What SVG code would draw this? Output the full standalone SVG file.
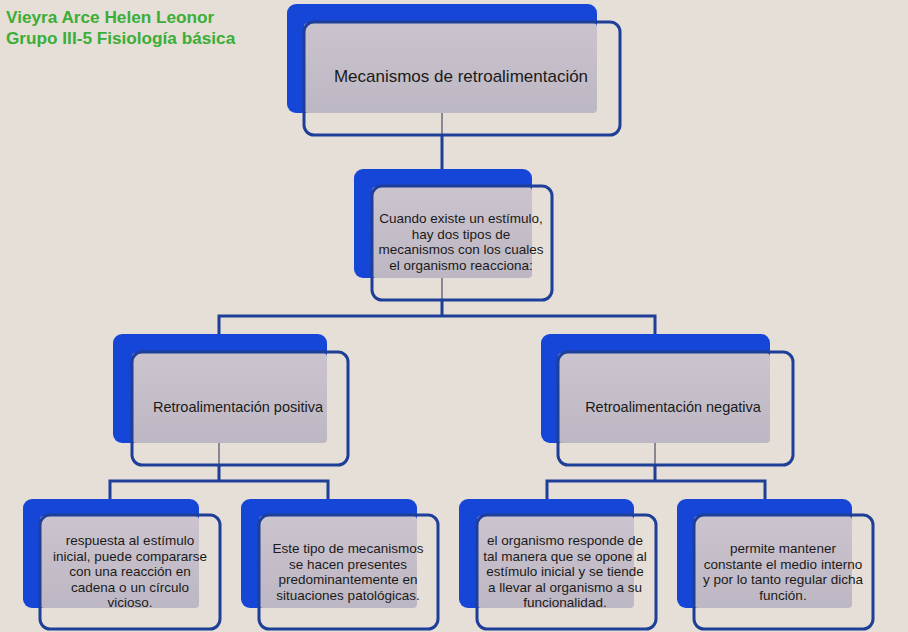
<svg xmlns="http://www.w3.org/2000/svg" width="908" height="632" viewBox="0 0 908 632">
<defs>
<linearGradient id="gr" x1="0" y1="0" x2="0" y2="1">
<stop offset="0" stop-color="#cbc4cf"/>
<stop offset="1" stop-color="#bdb7c3"/>
</linearGradient>
</defs>
<style>
.bg{fill:#e6dfd8}
.blue{fill:#1646d8}
.gray{fill:url(#gr)}
.out{fill:none;stroke:#1e3f98;stroke-width:3}
.c{fill:none;stroke:#1e3f98;stroke-width:3}
.cg{fill:none;stroke:#8a8794;stroke-width:2}
.t{font-family:"Liberation Sans",Arial,sans-serif;fill:#1b1a18;text-anchor:middle}
.s{font-size:13.5px}
.h{font-family:"Liberation Sans",Arial,sans-serif;font-weight:bold;font-size:17.2px;fill:#3aae36}
</style>
<rect class="bg" x="0" y="0" width="908" height="632"/>
<g id="header">
<text class="h" x="6" y="23">Vieyra Arce Helen Leonor</text>
<text class="h" x="6" y="44">Grupo III-5 Fisiología básica</text>
</g>
<g id="connectors">
<line class="cg" x1="442" y1="113" x2="442" y2="135"/>
<line class="c" x1="442" y1="135" x2="442" y2="170"/>
<line class="cg" x1="442" y1="278" x2="442" y2="300"/>
<path class="c" d="M442 300 V316 M219 316 H655 M219 314.5 V335 M655 314.5 V335"/>
<line class="cg" x1="219" y1="443" x2="219" y2="465"/>
<path class="c" d="M219 465 V481 M110 481 H328 M110 479.5 V500 M328 479.5 V500"/>
<line class="cg" x1="655" y1="443" x2="655" y2="465"/>
<path class="c" d="M655 465 V481 M547 481 H765 M547 479.5 V500 M765 479.5 V500"/>
</g>
<g id="n-top">
<rect class="blue" x="287" y="4" width="310" height="109" rx="9"/>
<rect class="gray" x="304" y="23" width="293" height="90" rx="4"/>
<rect class="out" x="304" y="22" width="316" height="113" rx="10"/>
<text class="t" x="461" y="82" style="font-size:17px">Mecanismos de retroalimentación</text>
</g>
<g id="n-mid">
<rect class="blue" x="354" y="169" width="178" height="109" rx="9"/>
<rect class="gray" x="372" y="187" width="160" height="91" rx="4"/>
<rect class="out" x="372" y="186" width="180" height="114" rx="10"/>
<text class="t s" x="461" y="223">Cuando existe un estímulo,</text>
<text class="t s" x="461" y="238.5">hay dos tipos de</text>
<text class="t s" x="461" y="254">mecanismos con los cuales</text>
<text class="t s" x="461" y="269.5">el organismo reacciona:</text>
</g>
<g id="n-pos">
<rect class="blue" x="113" y="334" width="214" height="109" rx="9"/>
<rect class="gray" x="132" y="353" width="195" height="90" rx="4"/>
<rect class="out" x="132" y="352" width="216" height="113" rx="10"/>
<text class="t" x="238" y="412" style="font-size:14.5px">Retroalimentación positiva</text>
</g>
<g id="n-neg">
<rect class="blue" x="541" y="334" width="229" height="109" rx="9"/>
<rect class="gray" x="558" y="353" width="212" height="90" rx="4"/>
<rect class="out" x="558" y="352" width="235" height="113" rx="10"/>
<text class="t" x="673" y="412" style="font-size:14.5px">Retroalimentación negativa</text>
</g>
<g id="n-a">
<rect class="blue" x="23" y="499" width="176" height="109" rx="9"/>
<rect class="gray" x="40" y="516" width="159" height="92" rx="4"/>
<rect class="out" x="40" y="515" width="180" height="114" rx="10"/>
<text class="t s" x="130" y="545">respuesta al estímulo</text>
<text class="t s" x="130" y="560.5">inicial, puede compararse</text>
<text class="t s" x="130" y="576">con una reacción en</text>
<text class="t s" x="130" y="591.5">cadena o un círculo</text>
<text class="t s" x="130" y="607">vicioso.</text>
</g>
<g id="n-b">
<rect class="blue" x="241" y="499" width="176" height="109" rx="9"/>
<rect class="gray" x="259" y="516" width="158" height="92" rx="4"/>
<rect class="out" x="259" y="515" width="179" height="114" rx="10"/>
<text class="t s" x="348" y="553">Este tipo de mecanismos</text>
<text class="t s" x="348" y="568.5">se hacen presentes</text>
<text class="t s" x="348" y="584">predominantemente en</text>
<text class="t s" x="348" y="599.5">situaciones patológicas.</text>
</g>
<g id="n-c">
<rect class="blue" x="459" y="499" width="175" height="109" rx="9"/>
<rect class="gray" x="477" y="516" width="157" height="92" rx="4"/>
<rect class="out" x="477" y="515" width="179" height="114" rx="10"/>
<text class="t s" x="565" y="545">el organismo responde de</text>
<text class="t s" x="565" y="560.5">tal manera que se opone al</text>
<text class="t s" x="565" y="576">estímulo inicial y se tiende</text>
<text class="t s" x="565" y="591.5">a llevar al organismo a su</text>
<text class="t s" x="565" y="607">funcionalidad.</text>
</g>
<g id="n-d">
<rect class="blue" x="677" y="499" width="175" height="109" rx="9"/>
<rect class="gray" x="694" y="516" width="158" height="92" rx="4"/>
<rect class="out" x="694" y="515" width="179" height="114" rx="10"/>
<text class="t s" x="783" y="553">permite mantener</text>
<text class="t s" x="783" y="568.5">constante el medio interno</text>
<text class="t s" x="783" y="584">y por lo tanto regular dicha</text>
<text class="t s" x="783" y="599.5">función.</text>
</g>
</svg>
